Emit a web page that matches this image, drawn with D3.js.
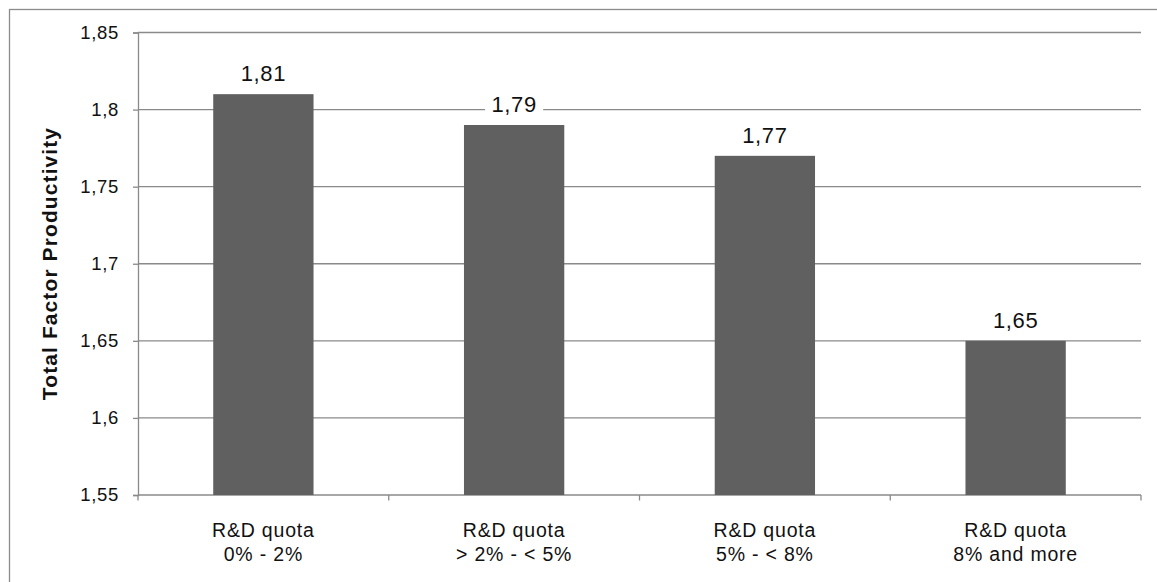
<!DOCTYPE html>
<html><head><meta charset="utf-8">
<script src="https://cdn.jsdelivr.net/npm/d3@7"></script>
<style>html,body{margin:0;padding:0;background:#fff;}svg{display:block;}</style>
</head><body>
<svg id="c" width="1157" height="582"></svg>
<script>
const categories = [["R&D quota","0% - 2%"],["R&D quota","> 2% - < 5%"],["R&D quota","5% - < 8%"],["R&D quota","8% and more"]];
const values = [1.81, 1.79, 1.77, 1.65];
const yTicks = [1.55, 1.6, 1.65, 1.7, 1.75, 1.8, 1.85];
const yTickLabels = ["1,55","1,6","1,65","1,7","1,75","1,8","1,85"];
const valueLabels = ["1,81","1,79","1,77","1,65"];
const yTitle = "Total Factor Productivity";

const svg = d3.select("#c");
const font = "Arial, 'Liberation Sans', sans-serif";
const gridCol = "#8a8a8a";

// outer frame
svg.append("rect").attr("x",9.5).attr("y",9.5).attr("width",1160).attr("height",600)
  .attr("fill","none").attr("stroke","#8c8c8c").attr("stroke-width",1.3);

const pLeft = 138, pRight = 1141, pTop = 32.5, pBottom = 495;
const y = d3.scaleLinear().domain([1.55,1.85]).range([pBottom, pTop]);
const x = d3.scaleBand().domain(d3.range(categories.length)).range([pLeft,pRight]).paddingInner(0.6).paddingOuter(0.3);

// gridlines
svg.append("g").selectAll("line").data(yTicks.slice(1)).join("line")
  .attr("x1",pLeft).attr("x2",pRight).attr("y1",d=>y(d)).attr("y2",d=>y(d))
  .attr("stroke",gridCol).attr("stroke-width",1.3);

// y axis
const yAxis = d3.axisLeft(y).tickValues(yTicks).tickSize(5).tickPadding(14)
  .tickFormat((d,i)=>yTickLabels[i]);
const gy = svg.append("g").attr("transform",`translate(${pLeft},0)`).call(yAxis);
gy.select(".domain").attr("stroke",gridCol).attr("stroke-width",1.3);
gy.selectAll(".tick line").attr("stroke",gridCol).attr("stroke-width",1.3);
gy.selectAll(".tick text").attr("font-family",font).attr("font-size","18.5px").attr("fill","#111")
  .attr("letter-spacing","0.7px");

// x axis with boundary ticks
const boundaries = d3.range(categories.length+1).map(i => pLeft + i*(pRight-pLeft)/categories.length);
svg.append("line").attr("x1",pLeft).attr("x2",pRight).attr("y1",pBottom).attr("y2",pBottom)
  .attr("stroke",gridCol).attr("stroke-width",1.3);
svg.append("g").selectAll("line").data(boundaries).join("line")
  .attr("x1",d=>d).attr("x2",d=>d).attr("y1",pBottom).attr("y2",pBottom+5.5)
  .attr("stroke",gridCol).attr("stroke-width",1.3);

// bars
svg.append("g").selectAll("rect").data(values).join("rect")
  .attr("x",(d,i)=>x(i)).attr("width",x.bandwidth())
  .attr("y",d=>y(d)).attr("height",d=>pBottom - y(d))
  .attr("fill","#606060");

// value labels with white background
const vl = svg.append("g");
values.forEach((v,i)=>{
  const cx = x(i)+x.bandwidth()/2;
  const by = y(v)-13;
  vl.append("rect").attr("x",cx-29).attr("y",by-20).attr("width",58).attr("height",26).attr("fill","#fff");
  vl.append("text").attr("x",cx).attr("y",by).attr("text-anchor","middle")
    .attr("font-family",font).attr("font-size","22px").attr("letter-spacing","0.6px").attr("fill","#111")
    .text(valueLabels[i]);
});

// category labels
const cl = svg.append("g");
categories.forEach((c,i)=>{
  const cx = x(i)+x.bandwidth()/2;
  c.forEach((line,j)=>{
    cl.append("text").attr("x",cx).attr("y",537+j*24).attr("text-anchor","middle")
      .attr("font-family",font).attr("font-size","19.5px").attr("letter-spacing","0.8px").attr("fill","#111")
      .text(line);
  });
});

// y title
svg.append("text").attr("transform",`translate(57,263.5) rotate(-90)`).attr("text-anchor","middle")
  .attr("font-family",font).attr("font-size","21px").attr("font-weight","bold").attr("fill","#111")
  .attr("letter-spacing","1.1px")
  .text(yTitle);
</script>
</body></html>
